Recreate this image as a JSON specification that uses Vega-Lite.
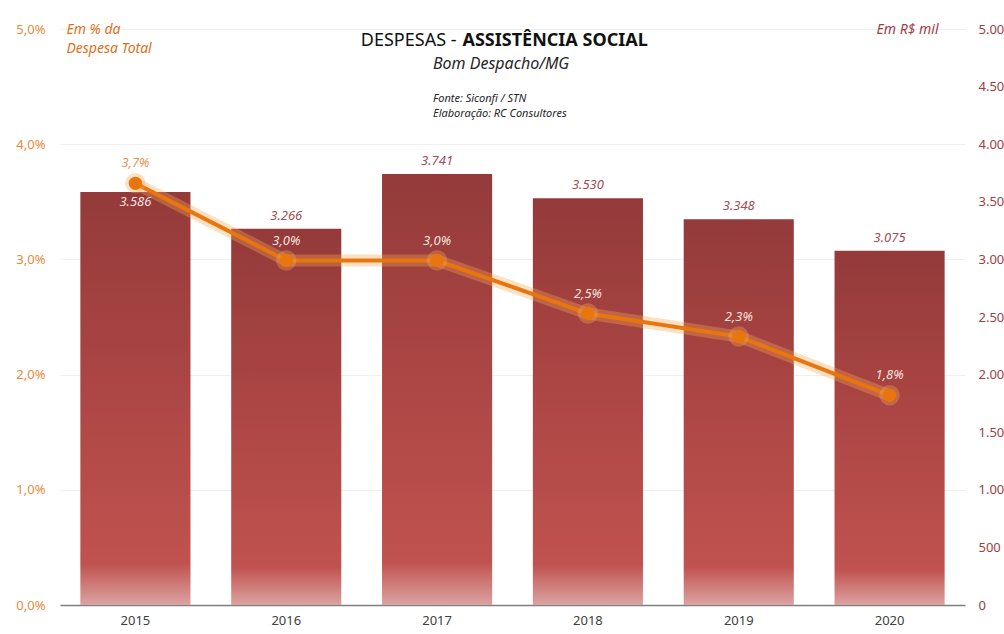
{
  "$schema": "https://vega.github.io/schema/vega-lite/v6.json",
  "width": 905,
  "height": 576,
  "autosize": {"type": "none"},
  "padding": {"left": 60, "top": 29, "right": 39, "bottom": 29},
  "background": "white",
  "config": {
    "locale": {"number": {"decimal": ",", "thousands": ".", "grouping": [3], "currency": ["R$ ", ""]}},
    "font": "Noto Sans",
    "view": {"stroke": null}
  },
  "title": {
    "text": "Bom Despacho/MG",
    "subtitle": ["Fonte: Siconfi  / STN", "Elaboração: RC Consultores"],
    "frame": "group",
    "anchor": "start",
    "align": "left",
    "dx": 373,
    "offset": -97,
    "font": "Noto Sans",
    "fontSize": 16,
    "fontStyle": "italic",
    "fontWeight": "normal",
    "color": "#262626",
    "subtitleFont": "Noto Sans",
    "subtitleFontSize": 11,
    "subtitleFontStyle": "italic",
    "subtitleColor": "#262626",
    "subtitlePadding": 21,
    "subtitleLineHeight": 15
  },
  "data": {
    "values": [
      {"ano": "2015", "valor": 3586, "pct": 0.0366},
      {"ano": "2016", "valor": 3266, "pct": 0.0299},
      {"ano": "2017", "valor": 3741, "pct": 0.0299},
      {"ano": "2018", "valor": 3530, "pct": 0.0253},
      {"ano": "2019", "valor": 3348, "pct": 0.0233},
      {"ano": "2020", "valor": 3075, "pct": 0.0182}
    ]
  },
  "resolve": {"scale": {"y": "independent"}, "axis": {"x": "independent"}},
  "layer": [
    {
      "encoding": {
        "x": {
          "field": "ano",
          "type": "nominal",
          "scale": {"paddingInner": 0.27, "paddingOuter": 0.135},
          "axis": {
            "orient": "bottom",
            "title": "ASSISTÊNCIA SOCIAL",
            "titleFont": "Noto Sans",
            "titleFontSize": 18,
            "titleFontWeight": "bold",
            "titleColor": "#111111",
            "titleX": 402,
            "titleY": -560,
            "titleAlign": "left",
            "titleBaseline": "alphabetic",
            "labelAngle": 0,
            "labelFontSize": 13,
            "labelColor": "#404040",
            "labelPadding": 9,
            "ticks": false,
            "domainColor": "#7f7f7f",
            "domainWidth": 1.5,
            "grid": false
          }
        },
        "y": {
          "field": "valor",
          "type": "quantitative",
          "scale": {"domain": [0, 5000]},
          "axis": {
            "orient": "right",
            "values": [0, 500, 1000, 1500, 2000, 2500, 3000, 3500, 4000, 4500, 5000],
            "format": ",d",
            "labelColor": "#A0403F",
            "labelFontSize": 13,
            "labelPadding": 13,
            "ticks": false,
            "domain": false,
            "grid": false,
            "title": "Em R$ mil",
            "titleAngle": 0,
            "titleAlign": "right",
            "titleBaseline": "top",
            "titleX": -27,
            "titleY": -7,
            "titleFontSize": 14,
            "titleFontStyle": "italic",
            "titleFontWeight": "normal",
            "titleColor": "#A0403F"
          }
        }
      },
      "layer": [
        {
          "mark": {
            "type": "bar",
            "color": {
              "gradient": "linear",
              "x1": 0, "y1": 0, "x2": 0, "y2": 1,
              "stops": [
                {"offset": 0, "color": "#943a3a"},
                {"offset": 0.5, "color": "#ad4745"},
                {"offset": 0.9, "color": "#c0524f"},
                {"offset": 1, "color": "#dba3a1"}
              ]
            }
          }
        },
        {
          "transform": [{"filter": "datum.ano != '2015'"}],
          "mark": {"type": "text", "dy": -13, "fontSize": 13, "fontStyle": "italic", "color": "#A04E58", "baseline": "middle"},
          "encoding": {"text": {"field": "valor", "type": "quantitative", "format": ",d"}}
        },
        {
          "transform": [{"filter": "datum.ano == '2015'"}],
          "mark": {"type": "text", "dy": 10, "fontSize": 13, "fontStyle": "italic", "color": "#F6E0DC", "baseline": "middle"},
          "encoding": {"text": {"field": "valor", "type": "quantitative", "format": ",d"}}
        }
      ]
    },
    {
      "encoding": {
        "x": {
          "field": "ano",
          "type": "nominal",
          "scale": {"paddingInner": 0.27, "paddingOuter": 0.135},
          "axis": {
            "orient": "top",
            "title": "DESPESAS -",
            "titleFont": "Noto Sans",
            "titleFontSize": 18,
            "titleFontWeight": "normal",
            "titleColor": "#111111",
            "titleX": 396,
            "titleY": 16,
            "titleAlign": "right",
            "titleBaseline": "alphabetic",
            "labels": false,
            "ticks": false,
            "domain": false,
            "grid": false
          }
        },
        "y": {
          "field": "pct",
          "type": "quantitative",
          "scale": {"domain": [0, 0.05]},
          "axis": {
            "orient": "left",
            "values": [0, 0.01, 0.02, 0.03, 0.04, 0.05],
            "format": ".1%",
            "labelColor": "#E8893A",
            "labelFontSize": 13,
            "labelPadding": 15,
            "ticks": false,
            "domain": false,
            "grid": true,
            "gridColor": "#f0f0f0",
            "title": ["Em % da", "Despesa Total"],
            "titleAngle": 0,
            "titleAlign": "left",
            "titleBaseline": "top",
            "titleX": 6,
            "titleY": -7,
            "titleLineHeight": 19,
            "titleFontSize": 14,
            "titleFontStyle": "italic",
            "titleFontWeight": "normal",
            "titleColor": "#E07020"
          }
        }
      },
      "layer": [
        {"mark": {"type": "line", "strokeWidth": 12, "color": "#F7A550", "opacity": 0.35}, "encoding": {}},
        {"mark": {"type": "line", "strokeWidth": 4, "color": "#E8760F"}, "encoding": {}},
        {"mark": {"type": "circle", "size": 420, "color": "#F7A550", "opacity": 0.35}},
        {"mark": {"type": "circle", "size": 180, "color": "#E8760F", "opacity": 1}},
        {
          "transform": [{"filter": "datum.ano != '2015'"}],
          "mark": {"type": "text", "dy": -20, "fontSize": 13, "fontStyle": "italic", "color": "#F6E0DC", "baseline": "middle"},
          "encoding": {"text": {"field": "pct", "type": "quantitative", "format": ".1%"}}
        },
        {
          "transform": [{"filter": "datum.ano == '2015'"}],
          "mark": {"type": "text", "dy": -20, "fontSize": 13, "fontStyle": "italic", "color": "#E89250", "baseline": "middle"},
          "encoding": {"text": {"field": "pct", "type": "quantitative", "format": ".1%"}}
        }
      ]
    }
  ]
}
